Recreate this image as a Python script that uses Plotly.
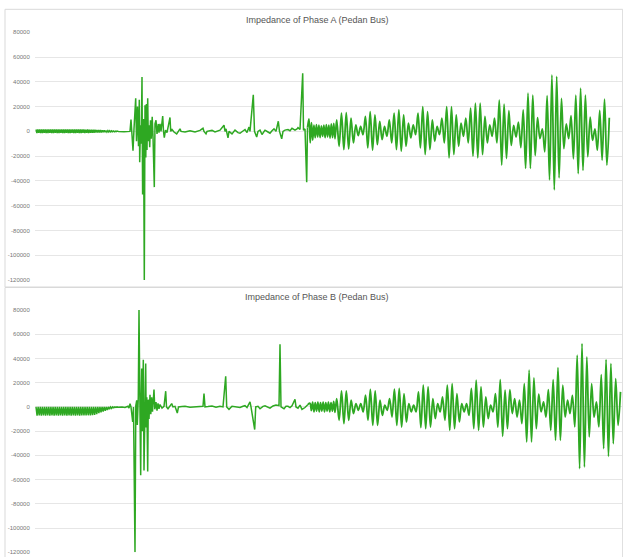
import numpy as np
import plotly.graph_objects as go

# ---------------- Phase A (Pedan Bus) ----------------
# low-level ripple at start (alternating half-cycle extremes)
a_ripple = [1500, -1300, 1600, -1200, 1500, -1400, 1600, -1300, 1500, -1200,
            1600, -1400, 1500, -1300, 1600, -1200, 1500, -1400, 1600, -1300,
            1500, -1200, 1600, -1400, 1500, -1300, 1600, -1200, 1500, -1400,
            1600, -1300, 1500, -1200, 1600, -1400, 1500, -1300, 1500, -1200,
            1600, -1400, 1500, -1300, 1600, -1200, 1500, -1400, 1600, -1300,
            1500, -1200, 1500, -1300, 1400, -1200, 1500, -1300, 1400, -1100,
            1300, -1200, 1400, -1100, 1300, -1000, 1200, -1000, 1100, -900,
            1000, -800, 900, -700, 800, -700, 700, -600, 600, -500,
            500, -400, 400, -300, 300, -300, 200, -200, 200, -100]
a_ripple_span = [36, 118]

# disturbance region (time, impedance)
a_dist_t = [118.5, 124, 128, 130, 131, 132, 133, 134, 135.7, 136.5, 137.5, 138.5, 139.3, 139.7,
            140.5, 141.2, 142, 142.6, 143.5, 144.3, 145, 145.8, 146.4, 147, 147.7, 148.3, 149,
            149.7, 150.5, 151.3, 152.2, 153, 154.3, 155, 156, 157, 158.3, 159, 160, 161, 162.7,
            163.5, 164.3, 165.5, 167, 170, 170.7, 172, 174, 176.7, 178, 180, 181, 185, 190, 195,
            200, 203, 204, 206, 207, 212, 215, 220, 224, 225, 226, 228, 229, 232, 235, 238, 240,
            243, 245, 247, 249, 250, 253.3, 254.5, 256.7, 258, 260, 262, 265, 268, 270, 272, 274,
            276, 278.3, 279.5, 281.7, 283, 285, 288, 290, 292, 295, 297, 298, 300, 302.7, 303.5,
            305, 306.7, 307.5]
a_dist_z = [0, -300, -500, 0, 9600, 0, -15600, 2000, 26800, -8000, 20000, -12000, 25500, -25000,
            5000, -10000, 44000, -51000, 10000, -120000, 21000, -21000, 22000, -15000, 26800, -8000, 5000,
            -12800, 9000, -6000, 11700, -4000, -45000, 6000, 9000, -2000, 6000, -1000, 6000, 0, 12300,
            0, -5000, 1000, -1000, 11200, 0, 1500, -500, -2000, 0, 2000, 0, -500, 500, -500,
            800, 2500, 0, -2000, 0, 800, -500, 1000, 5000, 0, 2000, -5200, 0, -2000, 1000, -1000, -1500,
            500, 1500, -1000, 3500, 0, 29600, 0, -4600, 0, 1000, -2500, 1000, -500, -1500, 500, 2000,
            0, 8200, 0, -6000, 0, 1000, 1500, 500, 2500, 1000, 2000, 3000, 1500, 47000, 1000,
            2000, -41000, 3000]

# small oscillation before the main oscillation
a_pre = [10000, -9300, 7000, -7000, 5000, -5000, 5500, -4500, 5000, -5000, 4500,
         -4000, 5000, -5000, 5500, -4500, 5000, -5500, 6000, -5000, 6500, -6000]
a_pre_span = [309, 335]

# main oscillation: alternating peak / trough values
a_osc = [9300, -12000, 14700, -14700, 15200, -14100, 10700, -9300, 5300, -3500,
         4000, -2700, 12000, -13300, 16000, -15200, 13300, -10700, 8000, -6700,
         4000, -4000, 9300, -9300, 14700, -14700, 17300, -16000, 13300, -12000,
         6700, -5300, 5300, -2700, 14700, -13300, 20000, -18700, 16000, -14700,
         9300, -8000, 4000, -2700, 10700, -9300, 20000, -21300, 20000, -18700,
         13300, -12000, 6700, -4000, 10700, -9300, 18700, -20000, 22700, -21300,
         22700, -18700, 12000, -9300, 5300, -4000, 10700, -9300,
         25300, -27200, 22000, -21900, 16800, -11200, 4800, -4500, 7500, -13100,
         17300, -29900, 30900, -29900, 29300, -19500, 11000, -5900, 2100, -16500,
         28800, -39200, 45600, -47200, 44300, -37600, 26700, -13900, 6100, -5900,
         12800, -22100, 29300, -34100, 34900, -31500, 29300, -20500, 11500, -7200,
         2100, -15200, 17000, -23200, 26100, -27200, 11000]
a_osc_span = [336.7, 609.3]

# ---------------- Phase B (Pedan Bus) ----------------
b_ripple = [0, -7200, 0, -7000, 0, -7300, 0, -7100, 0, -7200, 0, -7000, 0, -7300, 0, -7100,
            0, -7200, 0, -7000, 0, -7300, 0, -7100, 0, -7200, 0, -7000, 0, -7300, 0, -7100,
            0, -7200, 0, -7000, 0, -7300, 0, -7100, 0, -7200, 0, -7000, 0, -7100, 0, -7000,
            0, -6900, 0, -7000, 0, -6800, 0, -6500, 0, -6000, 0, -5200, 0, -4500, 0, -3800,
            0, -3200, 0, -2500, 0, -1800, 0, -1200, 0, -700, 0, -400, 0]
b_ripple_span = [36, 117]

b_dist_t = [118, 122, 125, 128, 129, 130, 131, 132.7, 133.5, 135, 135.8, 136.7, 137.3, 138.3, 139,
            140, 140.7, 141.3, 141.7, 142.3, 143.3, 144, 144.8, 145.7, 146.2, 146.8, 147.7, 148.3,
            149, 150, 150.8, 151.7, 152.5, 154, 154.8, 156, 157, 158, 159, 160, 162, 164, 165.7,
            166.5, 168, 170, 171.7, 173, 175, 177.3, 178.5, 182, 185, 190, 195, 200, 203, 204, 205,
            208, 212, 216, 220, 223, 225.7, 226.7, 229, 232, 236, 240, 243, 245, 247, 250, 251,
            254.7, 255.7, 258, 260, 263, 265, 268, 270, 273, 276, 279, 280, 281, 284, 286, 288,
            290, 292, 295, 296, 298, 300, 302, 305, 308]
b_dist_z = [-300, 0, -500, 500, -1000, 2700, 0, -12400, 0, -120000, 1000, 5500, -15000, 8000, 80000,
            -5000, -56400, 10000, 31700, -20000, 39000, -52500, 12000, 35800, -17000, 8000, -53400, 6000,
            -10000, 10000, -6000, 8000, -4000, 14300, -2000, 4000, -3000, 3000, -1500, 2000, -1000, 500, 13000,
            0, -1500, 1000, 2700, 0, 500, -5000, 0, 300, 500, -300, 0, 300, 500, 11000, 0,
            300, 800, -300, 500, 0, 25300, 0, -2000, 500, -300, -500, 500, 1000, -500, 4100, 0,
            -18700, 0, 500, -1500, 500, 1000, -500, -1000, 800, 1500, 1000, 51800, 0, -1500, 500, 500,
            -500, 1000, 6300, 0, -1000, 1500, -2000, -500, 2000]

b_pre = [3000, -3000, 4000, -4000, 3500, -3500, 4000, -4000, 3500, -3500,
         4000, -4000, 3500, -3500, 4000, -4000, 3500, -3500, 4500, -4500]
b_pre_span = [310, 335]

b_osc = [6900, -11000, 13200, -13800, 13200, -11000, 5500, -5500, 2800, -2800,
         2800, -4100, 9700, -11000, 14400, -15200, 13200, -15200, 5500, -6900,
         1400, -2800, 6900, -8300, 14600, -15200, 15200, -16600, 11000, -12400,
         2800, -4100, 1400, -4100, 12400, -17100, 17900, -17900, 16600, -16600,
         6900, -9700, 2800, -4100, 8300, -11000, 17900, -19300, 19300, -17900,
         11000, -12400, 2800, -4100, 2800, -6900, 15200, -17900, 22100, -19300,
         16600, -16600, 8300, -9700, 1400, -4100, 11000, -16600,
         22600, -24200, 13800, -17900, 14300, -5500, 6900, -8300, 5500, -13800,
         19300, -28900, 30300, -28900, 24000, -17900, 10500, -4100, 4100, -8300,
         14300, -19300, 22600, -27500, 32500, -27500, 17900, -8300, 5500, -5500,
         9600, -16500, 42700, -50900, 52300, -49600, 41300, -24800, 19300, -8300,
         4100, -16500, 26700, -34400, 39100, -40800, 35800, -30300, 23400, -15200, 12400]
b_osc_span = [336.7, 620.5]

y_ticks = [80000, 60000, 40000, 20000, 0, -20000, -40000, -60000, -80000, -100000, -120000]
titles = ["Impedance of Phase A (Pedan Bus)", "Impedance of Phase B (Pedan Bus)"]


def parts(ripple, rspan, dist_t, dist_z, pre, pspan, osc, ospan):
    t1 = np.concatenate([np.linspace(rspan[0], rspan[1], len(ripple)), np.array(dist_t, float)])
    z1 = np.concatenate([ripple, dist_z]).astype(float)
    t2 = np.concatenate([[t1[-1]], np.linspace(pspan[0], pspan[1], len(pre)),
                         np.linspace(ospan[0], ospan[1], len(osc))])
    z2 = np.concatenate([[z1[-1]], pre, osc]).astype(float)
    return t1, z1, t2, z2


W, H = 623, 557
green = "#2ea822"

fig = go.Figure()
for (ax, ay), args in [(("x", "y"), (a_ripple, a_ripple_span, a_dist_t, a_dist_z, a_pre, a_pre_span, a_osc, a_osc_span)),
                       (("x2", "y2"), (b_ripple, b_ripple_span, b_dist_t, b_dist_z, b_pre, b_pre_span, b_osc, b_osc_span))]:
    t1, z1, t2, z2 = parts(*args)
    fig.add_trace(go.Scatter(x=t1, y=z1, mode="lines", line=dict(color=green, width=1.5),
                             xaxis=ax, yaxis=ay, showlegend=False, hoverinfo="skip"))
    fig.add_trace(go.Scatter(x=t2, y=z2, mode="lines",
                             line=dict(color=green, width=1.8, shape="spline", smoothing=1.0),
                             xaxis=ax, yaxis=ay, showlegend=False, hoverinfo="skip"))

xdom = [35 / W, 622 / W]
ax_common = dict(range=[-120000, 80000], tickvals=y_ticks, ticktext=[str(v) for v in y_ticks],
                 showgrid=True, gridcolor="#e6e6e6", gridwidth=1, zeroline=False,
                 showline=False, ticks="outside", ticklen=3, tickcolor="rgba(0,0,0,0)",
                 tickfont=dict(size=6, color="#777777", family="Liberation Sans, Arial, sans-serif"),
                 automargin=False, fixedrange=True)
x_common = dict(range=[35, 622], showgrid=False, zeroline=False, showline=False,
                showticklabels=False, ticks="", automargin=False, fixedrange=True)

fig.update_layout(
    width=W, height=H,
    margin=dict(l=0, r=0, t=0, b=0),
    paper_bgcolor="white", plot_bgcolor="white",
    xaxis=dict(domain=xdom, anchor="y", **x_common),
    yaxis=dict(domain=[1 - 280 / H, 1 - 32.3 / H], anchor="x", **ax_common),
    xaxis2=dict(domain=xdom, anchor="y2", **x_common),
    yaxis2=dict(domain=[1 - 552.3 / H, 1 - 310 / H], anchor="x2", **ax_common),
    shapes=[
        dict(type="rect", xref="paper", yref="paper", x0=5 / W, x1=0.9995,
             y0=1 - 287 / H, y1=1 - 9.3 / H, line=dict(color="#d9d9d9", width=1)),
        dict(type="rect", xref="paper", yref="paper", x0=5 / W, x1=0.9995,
             y0=-0.02, y1=1 - 287.5 / H, line=dict(color="#d9d9d9", width=1)),
    ],
    annotations=[
        dict(text=titles[0], xref="paper", yref="paper", x=317 / W, y=1 - 19.5 / H,
             showarrow=False, xanchor="center", yanchor="middle",
             font=dict(size=9, color="#555555", family="Liberation Sans, Arial, sans-serif")),
        dict(text=titles[1], xref="paper", yref="paper", x=317 / W, y=1 - 297 / H,
             showarrow=False, xanchor="center", yanchor="middle",
             font=dict(size=9, color="#555555", family="Liberation Sans, Arial, sans-serif")),
    ],
)

fig.write_html("out.html", config={"displayModeBar": False},
               post_script="document.body.style.margin='0';document.body.style.overflow='hidden';")
